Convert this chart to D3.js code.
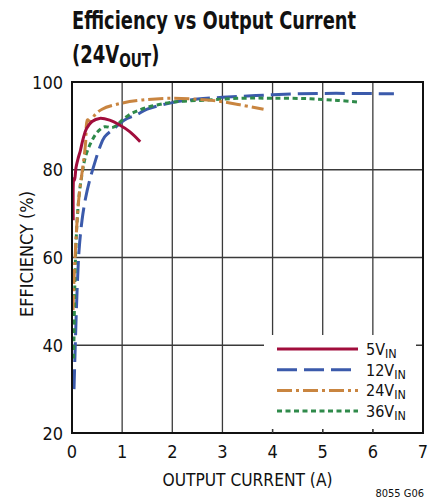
<!DOCTYPE html>
<html>
<head>
<meta charset="utf-8">
<script src="https://cdn.jsdelivr.net/npm/d3@7"></script>
<style>
  html, body { margin: 0; padding: 0; background: #fff; }
  svg text { font-family: "Liberation Sans Narrow", "DejaVu Sans Condensed", "Liberation Sans", sans-serif; fill: #111; }
</style>
</head>
<body>
<div id="chart"></div>
<script>
// output current (A) / efficiency (%)
const cur5 = [0.025, 0.035, 0.05, 0.08, 0.12, 0.17, 0.22, 0.29, 0.4, 0.55, 0.75, 0.95, 1.15, 1.36]
const eff5 = [68.5, 78, 77.6, 80.5, 82.5, 84.5, 87, 89.4, 91, 91.7, 91.3, 90.2, 88.7, 86.4]

const cur12 = [0.04, 0.06, 0.1, 0.14, 0.2, 0.27, 0.35, 0.47, 0.55, 0.65, 0.84, 1.04, 1.3, 1.5, 2.0, 2.5, 3.0, 3.5, 4.0, 4.5, 5.0, 5.5, 6.0, 6.42]
const eff12 = [30, 38, 52, 61.5, 68.5, 73.5, 77.5, 82.2, 85, 87.5, 89.4, 91.3, 92.6, 93.8, 95.3, 96.1, 96.5, 96.8, 97.1, 97.3, 97.4, 97.4, 97.35, 97.3]

const cur24 = [0.02, 0.04, 0.07, 0.1, 0.15, 0.22, 0.27, 0.29, 0.31, 0.37, 0.45, 0.6, 1.0, 1.4, 2.0, 2.7, 3.0, 3.35, 3.82]
const eff24 = [48, 55, 62, 68, 75, 81, 86, 90.5, 91.4, 90.9, 92.4, 93.8, 95.2, 95.9, 96.3, 95.9, 95.5, 94.8, 93.8]

const cur36 = [0.03, 0.04, 0.05, 0.07, 0.1, 0.14, 0.2, 0.27, 0.37, 0.5, 0.65, 0.8, 0.9, 1.0, 1.2, 1.5, 2.0, 2.7, 3.4, 4.0, 4.7, 5.3, 5.72]
const eff36 = [37, 42, 50, 60, 68, 74, 79, 83, 86, 88.5, 89.8, 89.6, 90.2, 91.3, 92.9, 94.2, 95.4, 95.9, 96.3, 96.3, 96.2, 95.8, 95.4]

const xTicks = [0, 1, 2, 3, 4, 5, 6, 7]
const yTicks = [20, 40, 60, 80, 100]
const seriesNames = ["5", "12", "24", "36"]

const W = 444, H = 502
const MARGIN = { LEFT: 72, RIGHT: 21, TOP: 82, BOTTOM: 69 }

const svg = d3.select("#chart").append("svg")
  .attr("width", W)
  .attr("height", H)

const x = d3.scaleLinear().domain([0, 7]).range([MARGIN.LEFT, W - MARGIN.RIGHT])
const y = d3.scaleLinear().domain([20, 100]).range([H - MARGIN.BOTTOM, MARGIN.TOP])

// title
svg.append("text")
  .attr("x", 72).attr("y", 29)
  .attr("font-size", 25).attr("font-weight", "bold")
  .attr("textLength", 284).attr("lengthAdjust", "spacingAndGlyphs")
  .text("Efficiency vs Output Current")

// second title line, squeezed to the narrow face of the original
const t2 = svg.append("g")
  .attr("transform", "translate(72,63) scale(0.8,1)")
  .append("text")
  .attr("font-size", 25).attr("font-weight", "bold")
t2.append("tspan").text("(24V")
t2.append("tspan").attr("font-size", 19).attr("dy", 4).text("OUT")
t2.append("tspan").attr("dy", -4).text(")")

// grid
const grid = svg.append("g").attr("stroke", "#3a3a3a").attr("stroke-width", 1.3)
grid.selectAll(".vg").data(xTicks.slice(1, -1)).enter().append("line")
  .attr("x1", d => x(d)).attr("x2", d => x(d))
  .attr("y1", y(100)).attr("y2", y(20))
grid.selectAll(".hg").data(yTicks.slice(1, -1)).enter().append("line")
  .attr("x1", x(0)).attr("x2", x(7))
  .attr("y1", d => y(d)).attr("y2", d => y(d))

// series
const series = [
  { name: seriesNames[0], xs: cur5, ys: eff5, color: "#a10d3c", dash: null },
  { name: seriesNames[1], xs: cur12, ys: eff12, color: "#3b5aab", dash: "20,7" },
  { name: seriesNames[2], xs: cur24, ys: eff24, color: "#c98540", dash: "15,4,3,4" },
  { name: seriesNames[3], xs: cur36, ys: eff36, color: "#2f8a4a", dash: "5,3.5" }
]

const line = d3.line()
  .x(d => x(d[0]))
  .y(d => y(d[1]))
  .curve(d3.curveCatmullRom.alpha(0.5))

const drawOrder = [1, 3, 2, 0]
drawOrder.forEach(i => {
  const s = series[i]
  svg.append("path")
    .datum(d3.zip(s.xs, s.ys))
    .attr("fill", "none")
    .attr("stroke", s.color)
    .attr("stroke-width", 3)
    .attr("stroke-dasharray", s.dash)
    .attr("d", line)
})

// legend box hides grid behind it
svg.append("rect")
  .attr("x", 264).attr("y", 335)
  .attr("width", 152).attr("height", 94)
  .attr("fill", "#fff")

const legend = svg.append("g")
series.forEach((s, i) => {
  const ly = 349 + i * 20.7
  legend.append("line")
    .attr("x1", 277).attr("x2", 358)
    .attr("y1", ly).attr("y2", ly)
    .attr("stroke", s.color).attr("stroke-width", 3)
    .attr("stroke-dasharray", s.dash)
  const lt = legend.append("text")
    .attr("x", 366).attr("y", ly + 6)
    .attr("font-size", 16)
  lt.append("tspan").text(s.name + "V")
  lt.append("tspan").attr("font-size", 12.5).attr("dy", 3).text("IN")
})

// frame
svg.append("rect")
  .attr("x", x(0)).attr("y", y(100))
  .attr("width", x(7) - x(0)).attr("height", y(20) - y(100))
  .attr("fill", "none").attr("stroke", "#111").attr("stroke-width", 2)

// inner ticks along the legend edges
svg.append("g").attr("stroke", "#3a3a3a").attr("stroke-width", 1.3)
  .selectAll("line").data([4, 5, 6]).enter().append("line")
  .attr("x1", d => x(d)).attr("x2", d => x(d))
  .attr("y1", y(20)).attr("y2", y(20) - 4)

// tick labels
svg.selectAll(".xl").data(xTicks).enter().append("text")
  .attr("x", d => x(d)).attr("y", y(20) + 25)
  .attr("text-anchor", "middle").attr("font-size", 18)
  .text(d => d)

svg.selectAll(".yl").data(yTicks).enter().append("text")
  .attr("x", 63).attr("y", d => y(d) + 6.5)
  .attr("text-anchor", "end").attr("font-size", 18)
  .text(d => d)

// axis titles
svg.append("text")
  .attr("x", (x(0) + x(7)) / 2).attr("y", 486)
  .attr("text-anchor", "middle").attr("font-size", 18)
  .attr("textLength", 170).attr("lengthAdjust", "spacingAndGlyphs")
  .text("OUTPUT CURRENT (A)")

svg.append("text")
  .attr("transform", "translate(33,254) rotate(-90)")
  .attr("text-anchor", "middle").attr("font-size", 18)
  .attr("textLength", 126).attr("lengthAdjust", "spacingAndGlyphs")
  .text("EFFICIENCY (%)")

svg.append("text")
  .attr("x", 424).attr("y", 497)
  .attr("text-anchor", "end").attr("font-size", 11)
  .text("8055 G06")
</script>
</body>
</html>
